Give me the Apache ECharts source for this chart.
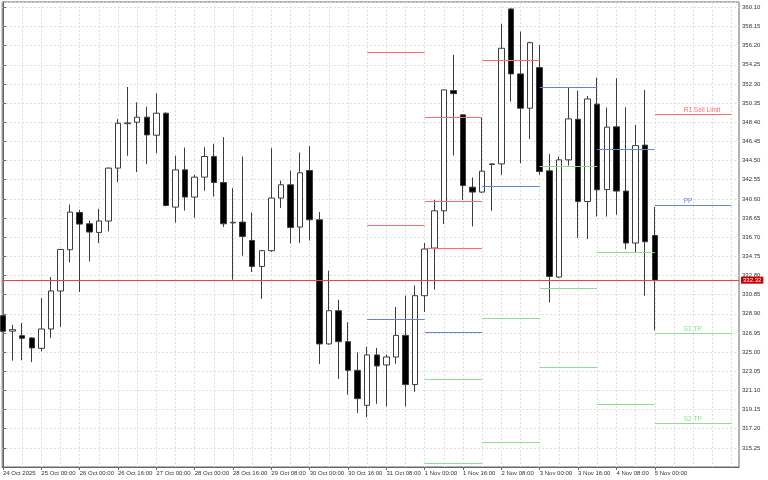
<!DOCTYPE html>
<html>
<head>
<meta charset="utf-8">
<title>H4 candles with daily pivots</title>
<script src="https://cdn.jsdelivr.net/npm/echarts@6/dist/echarts.min.js"></script>
<style>
  html, body { margin: 0; padding: 0; background: #fff; }
  #chart { width: 768px; height: 480px; }
</style>
</head>
<body>
<div id="chart"></div>
<script>
// H4 candles, index 0 = 24 Oct 2025
const opens  = [328.71, 327.13, 326.67, 326.44, 325.38, 327.35, 331.22, 335.42, 339.21, 338.06,
                337.18, 338.34, 343.73, 348.25, 348.40, 348.91, 347.08, 349.32, 339.76, 343.55,
                340.78, 342.81, 344.91, 342.26, 338.15, 338.23, 336.36, 333.72, 335.32, 340.68,
                342.03, 337.73, 343.48, 338.47, 325.83, 329.21, 326.06, 323.14, 319.58, 324.71,
                323.69, 324.50, 326.70, 321.69, 330.74, 335.59, 339.38, 351.62, 349.15, 341.79,
                341.29, 344.10, 344.16, 359.93, 353.32, 349.83, 353.96, 343.45, 332.64, 344.57,
                348.70, 340.33, 350.24, 341.55, 347.93, 341.39, 336.10, 346.07, 336.87];
const closes = [327.11, 327.28, 326.40, 325.42, 327.35, 331.22, 335.45, 339.25, 338.03, 337.22,
                338.34, 343.73, 348.30, 348.33, 348.91, 347.11, 349.32, 339.92, 343.55, 340.78,
                342.81, 344.91, 342.26, 338.06, 338.22, 336.77, 333.72, 335.32, 340.68, 342.03,
                337.69, 343.25, 338.47, 325.83, 329.21, 326.06, 323.14, 320.26, 324.71, 323.59,
                324.50, 326.70, 321.69, 330.74, 335.49, 339.38, 351.69, 351.31, 341.96, 341.29,
                343.42, 344.16, 355.93, 353.32, 349.83, 356.50, 343.38, 332.70, 344.57, 348.74,
                340.33, 350.77, 341.52, 347.90, 341.39, 336.10, 346.02, 336.23, 332.32];
const lows   = [327.00, 324.13, 324.16, 323.98, 325.07, 326.44, 327.56, 334.13, 331.12, 334.23,
                336.10, 337.28, 342.30, 344.98, 343.32, 344.13, 345.25, 339.85, 338.19, 339.41,
                338.67, 341.42, 340.84, 337.73, 332.37, 334.81, 333.15, 330.43, 335.20, 339.66,
                336.06, 336.10, 336.36, 323.79, 325.75, 322.27, 320.67, 318.81, 318.36, 319.73,
                319.48, 323.82, 319.48, 320.95, 329.08, 331.35, 338.03, 345.01, 340.50, 337.79,
                341.20, 339.38, 343.05, 350.50, 344.23, 346.68, 343.05, 330.06, 332.55, 343.99,
                336.61, 336.51, 338.80, 338.80, 338.98, 335.49, 335.18, 330.74, 327.21];
const highs  = [328.80, 327.79, 327.96, 326.50, 330.51, 332.64, 335.50, 340.02, 339.49, 338.37,
                339.59, 343.80, 348.71, 351.99, 350.42, 349.99, 351.35, 349.40, 344.98, 345.82,
                343.04, 345.86, 346.20, 346.88, 341.69, 344.91, 339.21, 335.40, 345.76, 342.46,
                343.48, 345.31, 345.99, 339.25, 333.28, 330.33, 328.02, 324.97, 325.52, 325.42,
                324.74, 329.59, 330.74, 331.79, 336.10, 340.50, 351.75, 355.25, 349.20, 342.77,
                348.91, 344.20, 358.40, 360.00, 357.62, 356.60, 356.27, 345.18, 344.91, 351.92,
                351.59, 351.08, 352.94, 349.89, 352.88, 349.93, 348.13, 351.69, 339.76];

// time labels, one every 4 candles
const timeLabels = ['24 Oct 2025', '25 Oct 00:00', '26 Oct 00:00', '26 Oct 16:00', '27 Oct 00:00',
                    '28 Oct 00:00', '28 Oct 16:00', '29 Oct 08:00', '30 Oct 00:00', '30 Oct 16:00',
                    '31 Oct 08:00', '1 Nov 00:00', '1 Nov 16:00', '2 Nov 08:00', '3 Nov 00:00',
                    '3 Nov 16:00', '4 Nov 08:00', '5 Nov 00:00'];

// daily pivot segments (candle index from / to)
const segStart = [38, 44, 50, 56, 62, 68];
const segEnd   = [44, 50, 56, 62, 68, 76];
const resistLevels  = [[355.52, 337.89], [348.91, 340.33, 335.59], [354.71], [], [], [349.22]];
const pivotLevels   = [328.37, 326.98, 341.86, 351.92, 345.69, 339.96];
const supportLevels = [[], [322.20, 313.65], [328.47, 315.79], [343.96, 331.45, 323.45], [335.18, 319.65], [326.95, 317.79]];
const resistNames  = ['R1 Sell Limit'];
const pivotName    = 'PP';
const supportNames = ['S1 TP', 'S2 TP'];

const lastPrice = 332.32;

// y ticks: 313.30 + k * 1.95
const yMin = 313.30;
const yMax = 360.64;
const yStep = 1.95;

const FONT = 'Liberation Sans';
const RED = '#ff6b6b';
const BLUE = '#5f86dc';
const GREEN = '#8edc8e';

const candleData = opens.map((o, i) => [i, o, closes[i], lows[i], highs[i]]);

const labelTicks = timeLabels.map((_, k) => k * 4);
const gridTicks = [];
for (let i = 0; i <= 76; i += 2) gridTicks.push(i);

function segLine(seg, value, color, name) {
  const item = [
    { coord: [segStart[seg], value], lineStyle: { color: color, width: 1, type: 'solid' } },
    { coord: [segEnd[seg], value] }
  ];
  if (name) {
    item[0].label = {
      show: true,
      formatter: name,
      position: 'insideStartTop',
      distance: [29, 0],
      color: color,
      fontSize: 6.5,
      fontFamily: FONT
    };
  } else {
    item[0].label = { show: false };
  }
  return item;
}

const levelLines = [];
const lastSeg = segStart.length - 1;
segStart.forEach((_, s) => {
  resistLevels[s].forEach((v, j) => {
    levelLines.push(segLine(s, v, RED, s === lastSeg ? resistNames[j] : null));
  });
  levelLines.push(segLine(s, pivotLevels[s], BLUE, s === lastSeg ? pivotName : null));
  supportLevels[s].forEach((v, j) => {
    levelLines.push(segLine(s, v, GREEN, s === lastSeg ? supportNames[j] : null));
  });
});

const chart = echarts.init(document.getElementById('chart'), null, { renderer: 'canvas' });

const option = {
  backgroundColor: '#ffffff',
  animation: false,
  grid: {
    left: 1, right: 29, top: 2, bottom: 13,
    show: true,
    borderColor: '#666',
    borderWidth: 1,
    backgroundColor: '#fff'
  },
  xAxis: [
    {
      type: 'value',
      min: -0.083,
      max: 76.79,
      position: 'bottom',
      axisLine: { show: true, lineStyle: { color: '#666' } },
      axisTick: { show: true, customValues: labelTicks, length: 3, lineStyle: { color: '#666' } },
      axisLabel: {
        customValues: labelTicks,
        formatter: (v) => timeLabels[Math.round(v / 4)] || '',
        align: 'left',
        margin: 3,
        fontSize: 6,
        color: '#333',
        fontFamily: FONT
      },
      splitLine: { show: false }
    },
    {
      type: 'value',
      min: -0.083,
      max: 76.79,
      position: 'bottom',
      axisLine: { show: false },
      axisTick: { show: false, customValues: gridTicks },
      axisLabel: { show: false },
      splitLine: { show: true, lineStyle: { color: '#dedede', type: [2, 2], width: 1 } }
    }
  ],
  yAxis: {
    type: 'value',
    position: 'right',
    min: yMin,
    max: yMax,
    interval: yStep,
    axisLine: { show: true, lineStyle: { color: '#666' } },
    axisTick: { show: true, length: 3, lineStyle: { color: '#666' } },
    axisLabel: {
      formatter: (v) => v.toFixed(2),
      showMinLabel: false,
      showMaxLabel: false,
      margin: 3,
      fontSize: 6,
      color: '#333',
      fontFamily: FONT
    },
    splitLine: { show: true, lineStyle: { color: '#dedede', type: [2, 2], width: 1 } }
  },
  series: [
    {
      type: 'candlestick',
      xAxisIndex: 0,
      data: candleData,
      encode: { x: 0, y: [1, 2, 3, 4] },
      barWidth: 6,
      clip: false,
      itemStyle: {
        color: '#ffffff',
        color0: '#000000',
        borderColor: '#3c3c3c',
        borderColor0: '#3c3c3c',
        borderWidth: 1
      }
    },
    {
      type: 'line',
      xAxisIndex: 0,
      data: [],
      silent: true,
      markLine: {
        silent: true,
        symbol: ['none', 'none'],
        animation: false,
        data: levelLines.concat([
          {
            yAxis: lastPrice,
            lineStyle: { color: '#e04848', width: 1, type: 'solid' },
            label: {
              show: true,
              position: 'end',
              distance: 2,
              formatter: lastPrice.toFixed(2),
              color: '#fff',
              backgroundColor: '#cc0000',
              padding: [1, 2, 0, 2],
              fontSize: 6,
              fontFamily: FONT
            }
          }
        ])
      }
    }
  ]
};

chart.setOption(option);
window.addEventListener('resize', () => chart.resize());
</script>
</body>
</html>
